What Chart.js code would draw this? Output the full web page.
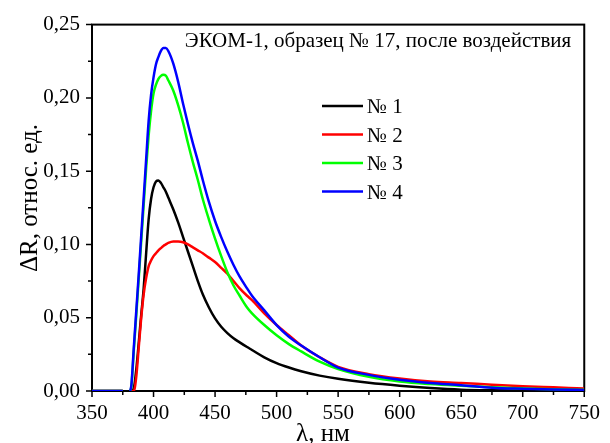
<!DOCTYPE html>
<html>
<head>
<meta charset="utf-8">
<script src="https://cdn.jsdelivr.net/npm/chart.js@4/dist/chart.umd.min.js"></script>
<style>
  html, body { margin: 0; padding: 0; background: #fff; }
  #wrap { width: 610px; height: 443px; }
</style>
</head>
<body>
<div id="wrap"><canvas id="chart" width="610" height="443"></canvas></div>
<script>
// wavelength, nm (null in the series marks the gap in the record)
var wavelength = [350, 375, 378, 381, 382, 384, 386, 388, 390, 392, 394, 396, 398, 400, 402,
    404, 406, 408, 410, 412, 416, 420, 424, 428, 432, 436, 440, 445, 450, 455,
    460, 465, 470, 476, 480, 490, 500, 510, 520, 535, 550, 575, 600, 625, 650,
    675, 700, 725, 750];

var seriesLabels = ['№ 1', '№ 2', '№ 3', '№ 4'];
var seriesColors = ['#000000', '#ff0000', '#00ff00', '#0000ff'];

var dR1 = [0, 0, null, 0, 0, 0.002, 0.015, 0.033, 0.052, 0.070, 0.094, 0.117, 0.131, 0.139, 0.143,
    0.1437, 0.142, 0.139, 0.136, 0.132, 0.124, 0.115, 0.105, 0.095, 0.085, 0.075, 0.066, 0.057, 0.0495, 0.0438,
    0.0395, 0.036, 0.0332, 0.030, 0.028, 0.023, 0.019, 0.016, 0.0135, 0.0105, 0.0083, 0.0056, 0.0036, 0.002, 0.0009,
    0.0005, 0.0004, 0.0003, 0.0002];
var dR2 = [0, 0, null, 0, 0, 0, 0.010, 0.030, 0.050, 0.066, 0.077, 0.085, 0.089, 0.092, 0.094,
    0.096, 0.0975, 0.099, 0.100, 0.101, 0.102, 0.102, 0.1015, 0.100, 0.098, 0.096, 0.094, 0.091, 0.088, 0.084,
    0.080, 0.075, 0.070, 0.065, 0.062, 0.053, 0.045, 0.038, 0.031, 0.023, 0.0165, 0.0115, 0.0085, 0.0065, 0.0055,
    0.0043, 0.0033, 0.0025, 0.0017];
var dR3 = [0, 0, null, 0, 0.003, 0.028, 0.052, 0.077, 0.102, 0.127, 0.152, 0.174, 0.191, 0.203, 0.209,
    0.213, 0.215, 0.2157, 0.2152, 0.212, 0.205, 0.195, 0.183, 0.169, 0.156, 0.144, 0.131, 0.117, 0.104, 0.092,
    0.081, 0.072, 0.065, 0.057, 0.053, 0.045, 0.038, 0.032, 0.027, 0.020, 0.015, 0.0097, 0.0065, 0.0047, 0.0035,
    0.0025, 0.0018, 0.0012, 0.0008];
var dR4 = [0, 0, null, 0, 0.004, 0.030, 0.055, 0.080, 0.106, 0.132, 0.158, 0.184, 0.202, 0.214, 0.223,
    0.228, 0.232, 0.234, 0.234, 0.232, 0.2235, 0.211, 0.196, 0.182, 0.169, 0.157, 0.144, 0.129, 0.116, 0.105,
    0.095, 0.086, 0.078, 0.070, 0.065, 0.055, 0.045, 0.037, 0.031, 0.023, 0.016, 0.011, 0.0077, 0.0055, 0.004,
    0.0022, 0.0015, 0.001, 0.0007];

var chartTitle = 'ЭКОМ-1, образец № 17, после воздействия';
var xTitle = 'λ, нм';
var yTitle = 'ΔR, относ. ед.';

var serif = '"Liberation Serif", "Times New Roman", serif';

function points(values) {
    return wavelength.map(function(w, i) { return {x: w, y: values[i]}; });
}

var allSeries = [dR1, dR2, dR3, dR4];
var datasets = allSeries.map(function(values, i) {
    return {
        label: seriesLabels[i],
        data: points(values),
        borderColor: seriesColors[i],
        backgroundColor: seriesColors[i],
        borderWidth: 2.5,
        pointRadius: 0,
        fill: false,
        spanGaps: false,
        cubicInterpolationMode: 'monotone',
        order: allSeries.length - i   // last series on top
    };
});

// frame, tick marks, titles and the legend box
var decor = {
    id: 'decor',
    beforeDatasetsDraw: function(chart) {
        var ctx = chart.ctx, a = chart.chartArea;
        var xs = chart.scales.x, ys = chart.scales.y;
        ctx.save();
        ctx.strokeStyle = '#000';
        ctx.lineWidth = 2;
        ctx.strokeRect(a.left, a.top, a.right - a.left, a.bottom - a.top);
        ctx.lineWidth = 1.5;
        ctx.beginPath();
        xs.ticks.forEach(function(t) {
            var major = Math.round(t.value) % 50 === 0;
            var px = xs.getPixelForValue(t.value);
            ctx.moveTo(px, a.bottom);
            ctx.lineTo(px, a.bottom + (major ? 6 : 4));
        });
        ys.ticks.forEach(function(t) {
            var major = Math.round(t.value * 1000) % 50 === 0;
            var py = ys.getPixelForValue(t.value);
            ctx.moveTo(a.left, py);
            ctx.lineTo(a.left - (major ? 6 : 4), py);
        });
        ctx.stroke();
        ctx.restore();
    },
    afterDraw: function(chart) {
        var ctx = chart.ctx;
        ctx.save();
        ctx.fillStyle = '#000';
        ctx.textBaseline = 'alphabetic';

        ctx.font = '21px ' + serif;
        ctx.textAlign = 'center';
        ctx.fillText(chartTitle, 378, 47);

        ctx.font = '25px ' + serif;
        ctx.fillText(xTitle, 323, 441);

        ctx.translate(37, 198);
        ctx.rotate(-Math.PI / 2);
        ctx.fillText(yTitle, 0, 0);
        ctx.restore();

        // legend
        ctx.save();
        ctx.font = '21px ' + serif;
        ctx.textAlign = 'left';
        chart.data.datasets.forEach(function(ds, i) {
            var y = 106 + i * 28.5;
            ctx.strokeStyle = ds.borderColor;
            ctx.lineWidth = 2.5;
            ctx.beginPath();
            ctx.moveTo(322, y);
            ctx.lineTo(363, y);
            ctx.stroke();
            ctx.fillStyle = '#000';
            ctx.fillText(ds.label, 367, y + 7);
        });
        ctx.restore();
    }
};

var ctx = document.getElementById('chart');
var chart = new Chart(ctx, {
    type: 'line',
    data: { datasets: datasets },
    options: {
        responsive: false,
        animation: false,
        layout: { padding: { left: 0, top: 23, right: 18, bottom: 0 } },
        plugins: {
            legend: { display: false },
            tooltip: { enabled: false }
        },
        scales: {
            x: {
                type: 'linear',
                min: 350,
                max: 750,
                border: { display: false },
                grid: { display: false, drawTicks: false },
                ticks: {
                    stepSize: 25,
                    autoSkip: false,
                    maxRotation: 0,
                    padding: 10,
                    color: '#000',
                    font: { family: serif, size: 21 },
                    callback: function(v) { return Math.round(v) % 50 === 0 ? String(v) : ''; }
                },
                afterFit: function(s) { s.height = 52; }
            },
            y: {
                min: 0,
                max: 0.25,
                border: { display: false },
                grid: { display: false, drawTicks: false },
                ticks: {
                    stepSize: 0.025,
                    autoSkip: false,
                    padding: 12,
                    color: '#000',
                    font: { family: serif, size: 21 },
                    callback: function(v) {
                        return Math.round(v * 1000) % 50 === 0 ? v.toFixed(2).replace('.', ',') : '';
                    }
                },
                afterFit: function(s) { s.width = 92; }
            }
        }
    },
    plugins: [decor]
});
</script>
</body>
</html>
